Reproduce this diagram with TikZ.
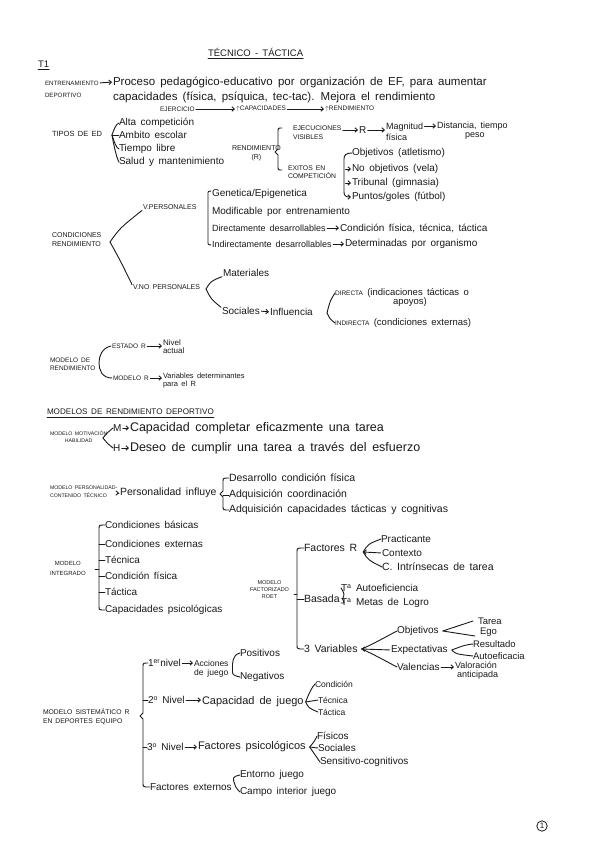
\documentclass[tikz,border=0pt]{standalone}
\usepackage{fontspec}
\setmainfont{Liberation Sans}
\usetikzlibrary{arrows.meta,calc}
\definecolor{ink}{HTML}{1A1A1A}
\newcommand\hwfont[2]{\fontsize{#1}{#2}\selectfont\spaceskip=0.45em plus 0.1em\relax}
\tikzset{
  base/.style={inner sep=0pt, outer sep=0pt, anchor=west, text=ink},
  txt/.style={base, font=\hwfont{10}{12}},
  big/.style={base, font=\hwfont{11.5}{14}},
  capl/.style={base, font=\hwfont{7}{9}, align=left},
  capctr/.style={base, font=\hwfont{7}{8}, align=center},
  ln/.style={draw=ink, line width=0.9pt, line cap=round, line join=round},
  ar/.style={ln, -{Straight Barb[length=2.5pt,width=4.5pt]}, shorten <=1.5pt, shorten >=1pt},
}
\begin{document}
\begin{tikzpicture}[x=1pt,y=-1pt]
\useasboundingbox[fill=white] (0,0) rectangle (599,848);

% title
\node[base, font=\hwfont{9.5}{11}] (title) at (208,52) {TÉCNICO - TÁCTICA};
\draw[ln] ([yshift=-2.5pt]title.south west) -- ([yshift=-2.5pt]title.south east);
\node[base, font=\hwfont{9.5}{11}] (tone) at (38,64) {T1};
\draw[ln] ([yshift=-2pt]tone.south west) -- ([yshift=-2pt]tone.south east);

% entrenamiento
\node[capl, font=\hwfont{6.2}{8}] (ent1) at (45,83) {ENTRENAMIENTO};
\node[capl, font=\hwfont{6.2}{8}] (ent2) at (45,95) {DEPORTIVO};
\node[big] (proc1) at (113,82) {Proceso pedagógico-educativo por organización de EF, para aumentar};
\node[big] (proc2) at (113,97) {capacidades (física, psíquica, tec-tac). Mejora el rendimiento};
\draw[ar] (ent1.east) -- (proc1.west);

\node[capl, font=\hwfont{6.5}{8}] (ejer) at (160,109) {EJERCICIO};
\node[capl, font=\hwfont{6.5}{8}] (capa) at (236,109) {$\uparrow$CAPACIDADES};
\node[capl, font=\hwfont{6.5}{8}] (rend0) at (325,109) {$\uparrow$RENDIMIENTO};
\draw[ar] (ejer.east) -- (capa.west);
\draw[ar] (capa.east) -- (rend0.west);

% tipos de ED
\node[capl, font=\hwfont{7.5}{9}] (tipos) at (52,134) {TIPOS DE ED};
\coordinate (vt) at (112,135);
\node[txt] (tp1) at (119,123) {Alta competición};
\node[txt] (tp2) at (119,135) {Ambito escolar};
\node[txt] (tp3) at (119,149) {Tiempo libre};
\node[txt] (tp4) at (119,162) {Salud y mantenimiento};
\draw[ln] (vt) .. controls +(2,-6) and +(-3,1) .. (tp1.west);
\draw[ln] (vt) -- (tp2.west);
\draw[ln] (vt) .. controls +(2,6) and +(-3,-1) .. (tp3.west);
\draw[ln] (vt) .. controls +(2,12) and +(-2,-3) .. (tp4.west);

% rendimiento
\node[capctr, font=\hwfont{7}{9}] (rendR) at (232,153) {RENDIMIENTO\\(R)};
\draw[ln] (282,128) .. controls (278,128) .. (278,132) -- (278,149) -- (275,152) -- (278,155) -- (278,166) .. controls (278,170) .. (282,170);
\node[capl, font=\hwfont{6.8}{9}] (ejec) at (293,133) {EJECUCIONES\\VISIBLES};
\node[txt] (Rm) at (359,130) {R};
\node[base, font=\hwfont{9}{11}, align=left] (magn) at (386,132) {Magnitud\\física};
\node[base, font=\hwfont{9}{11}] (dist) at (437,126) {Distancia, tiempo};
\node[base, font=\hwfont{9}{11}] (peso) at (465,136) {peso};
\draw[ar] (ejec.east |- Rm.west) -- (Rm.west);
\draw[ar] (Rm.east) -- (Rm.east -| magn.west);
\draw[ar] (magn.east |- dist.west) -- (dist.west);

\node[capl, font=\hwfont{6.8}{8.5}] (exit) at (288,172) {EXITOS EN\\COMPETICIÓN};
\node[txt] (ob1) at (352,153) {Objetivos (atletismo)};
\node[txt] (ob2) at (352,169) {No objetivos (vela)};
\node[txt] (ob3) at (352,183) {Tribunal (gimnasia)};
\node[txt] (ob4) at (352,197) {Puntos/goles (fútbol)};
\coordinate (bx) at (344,0);
\draw[ln] (ob1.west) .. controls (346,153) and (344,155) .. (344,159) -- (344,192);
\draw[ar, shorten <=0pt] (344,192) .. controls (344,196) and (346,197) .. (ob4.west);
\draw[ar] (bx |- ob2.west) -- (ob2.west);
\draw[ar] (bx |- ob3.west) -- (ob3.west);

% condiciones rendimiento
\node[capl, font=\hwfont{7}{9}] (cond) at (52,240) {CONDICIONES\\RENDIMIENTO};
\coordinate (vc) at (110,242);
\node[capl, font=\hwfont{7}{8}] (vpers) at (143,207) {V.PERSONALES};
\node[capl, font=\hwfont{7}{8}] (vnop) at (133,287) {V.NO PERSONALES};
\draw[ln] (vc) .. controls +(10,-14) .. ([xshift=-1pt,yshift=-1pt]vpers.south west);
\draw[ln] (vc) .. controls +(10,18) .. ([xshift=-1pt]vnop.north west);

\node[txt] (g1) at (212,194) {Genetica/Epigenetica};
\node[txt] (g2) at (212,212) {Modificable por entrenamiento};
\node[base, font=\hwfont{9}{11}] (g3) at (212,228) {Directamente desarrollables};
\node[base, font=\hwfont{10}{11}] (g3b) at (340,228) {Condición física, técnica, táctica};
\node[base, font=\hwfont{9}{11}] (g4) at (212,244) {Indirectamente desarrollables};
\node[base, font=\hwfont{10}{11}] (g4b) at (345,244) {Determinadas por organismo};
\draw[ln] (211,191) .. controls (208,191) .. (208,195) -- (208,241) .. controls (208,245) .. (211,245);
\draw[ar] (g3.east) -- (g3b.west);
\draw[ar] (g4.east) -- (g4b.west);

\coordinate (vn) at (206,289);
\node[txt] (mat) at (223,273) {Materiales};
\node[txt] (soc) at (222,311) {Sociales};
\node[txt] (infl) at (270,312) {Influencia};
\draw[ln] (vn) .. controls +(5,-8) .. ([xshift=-1pt]mat.south west);
\draw[ln] (vn) .. controls +(5,10) .. ([xshift=-1pt]soc.north west);
\draw[ar] (soc.east) -- (infl.west);
\coordinate (vi) at (327,313);
\node[base, font=\hwfont{9.5}{10}] (dir) at (335,293) {{\fontsize{6.5}{8}\selectfont DIRECTA} (indicaciones tácticas o};
\node[base, font=\hwfont{9.5}{10}] (apo) at (393,302) {apoyos)};
\node[base, font=\hwfont{9.5}{10}] (ind) at (335,323) {{\fontsize{6.5}{8}\selectfont INDIRECTA} (condiciones externas)};
\draw[ln] (vi) .. controls +(3,-12) .. (dir.west);
\draw[ln] (vi) .. controls +(3,6) .. (ind.west);

% modelo de rendimiento
\node[capl, font=\hwfont{6.5}{8}] (mdr) at (50,364) {MODELO DE\\RENDIMIENTO};
\node[capl, font=\hwfont{6.5}{8}] (est) at (112,346) {ESTADO R};
\node[base, font=\hwfont{8}{8}, align=left] (niv) at (163,347) {Nivel\\actual};
\node[capl, font=\hwfont{6.5}{8}] (modr) at (113,378) {MODELO R};
\node[base, font=\hwfont{7.5}{8}, align=left] (var) at (163,381) {Variables determinantes\\para el R};
\draw[ln] ([xshift=-1pt]est.west) .. controls (102,348) and (99,356) .. (99,363) .. controls (99,370) and (102,378) .. ([xshift=-1pt]modr.west);
\draw[ar] (est.east) -- (est.east -| niv.west);
\draw[ar] (modr.east) -- (modr.east -| var.west);

% modelos de rendimiento deportivo
\node[capl, font=\hwfont{8.1}{10}] (mrd) at (47,412) {MODELOS DE RENDIMIENTO DEPORTIVO};
\draw[ln] ([yshift=-2.5pt]mrd.south west) -- ([yshift=-2.5pt]mrd.south east);

\node[capctr, font=\hwfont{5.2}{7}] (mmh) at (50,437) {MODELO MOTIVACIÓN\\HABILIDAD};
\coordinate (vm) at (103,438);
\node[txt] (mM) at (113,428) {M};
\node[big, font=\hwfont{12.5}{14}] (mcap) at (130,428) {Capacidad completar eficazmente una tarea};
\node[txt] (hH) at (113,448) {H};
\node[big, font=\hwfont{12.5}{14}] (hdes) at (130,448) {Deseo de cumplir una tarea a través del esfuerzo};
\draw[ar] (mM.east) -- (mcap.west);
\draw[ar] (hH.east) -- (hdes.west);
\draw[ln] (vm) .. controls +(4,-5) .. (mM.west);
\draw[ln] (vm) .. controls +(4,5) .. (hH.west);

\node[capl, font=\hwfont{5.2}{8}] (mpc) at (50,492) {MODELO PERSONALIDAD-\\CONTENIDO TÉCNICO};
\node[base, font=\hwfont{10.5}{12}] (pinf) at (120,493) {Personalidad influye};
\draw[ar] (mpc.east |- pinf.west) -- (pinf.west);
\node[base, font=\hwfont{10.5}{12}] (p1) at (229,478) {Desarrollo condición física};
\node[base, font=\hwfont{10.5}{12}] (p2) at (229,495) {Adquisición coordinación};
\node[base, font=\hwfont{10.5}{12}] (p3) at (229,510) {Adquisición capacidades tácticas y cognitivas};
\draw[ln] (p1.west) .. controls (223,478) .. (223,482) -- (223,491) -- (220,494) -- (223,497) -- (223,506) .. controls (223,510) .. (p3.west);
\draw[ln] (223,495) -- (p2.west);

% modelo integrado
\node[capctr, font=\hwfont{6}{10}] (mi) at (50,568) {MODELO\\INTEGRADO};
\node[txt] (i1) at (105,525) {Condiciones básicas};
\node[txt] (i2) at (105,544) {Condiciones externas};
\node[txt] (i3) at (105,560) {Técnica};
\node[txt] (i4) at (105,576) {Condición física};
\node[txt] (i5) at (105,592) {Táctica};
\node[txt] (i6) at (105,610) {Capacidades psicológicas};
\coordinate (ix) at (99,0);
\draw[ln] (i1.west) .. controls (99,525) .. (99,529) -- (99,606) .. controls (99,610) .. (i6.west);
\foreach \n in {i2,i3,i4,i5} {\draw[ln] (ix |- \n.west) -- (\n.west);}
\draw[ln] (99,569) -- (95,569);

% modelo factorizado
\node[capctr, font=\hwfont{5.5}{7}] (mf) at (250,590) {MODELO\\FACTORIZADO\\ROET};
\node[base, font=\hwfont{10.5}{12}] (fr) at (304,548) {Factores R};
\node[base, font=\hwfont{10.5}{12}] (bas) at (304,599) {Basada};
\node[base, font=\hwfont{10.5}{12}] (v3n) at (304,649) {3 Variables};
\draw[ln] (fr.west) .. controls (297,548) .. (297,552) -- (297,645) .. controls (297,649) .. (v3n.west);
\draw[ln] (297,599) -- (bas.west);
\draw[ln] (297,594) -- (294,594);

\coordinate (vf) at ([xshift=6pt]fr.east);
\node[txt] (pr) at (381,539) {Practicante};
\node[txt] (ct) at (382,553) {Contexto};
\node[base, font=\hwfont{10.5}{12}] (ci) at (382,567) {C. Intrínsecas de tarea};
\draw[ln] ([yshift=-4pt]vf) .. controls +(5,-8) .. (pr.west);
\draw[ar, shorten >=0pt] (ct.west) -- ([yshift=-4pt]vf);
\draw[ln] ([yshift=-4pt]vf) .. controls +(5,8) .. (ci.west);

\coordinate (vb) at ([xshift=3pt]bas.east);
\node[txt] (ta1) at (341,588) {T\textsuperscript{a} Autoeficiencia};
\node[txt] (ta2) at (341,603) {T\textsuperscript{a} Metas de Logro};
\draw[ln] (vb) .. controls +(2,-5) .. (ta1.west);
\draw[ln] (vb) .. controls +(2,4) .. (ta2.west);

\coordinate (v3) at ([xshift=4pt]v3n.east);
\node[txt] (objv) at (397,631) {Objetivos};
\node[txt] (expv) at (391,650) {Expectativas};
\node[txt] (valv) at (397,667) {Valencias};
\draw[ln] (v3) .. controls +(10,-4) and +(-6,3) .. (objv.west);
\draw[ar, shorten >=0pt] (expv.west) -- (v3);
\draw[ln] (v3) .. controls +(10,4) and +(-6,-3) .. (valv.west);

\coordinate (vo) at ([xshift=4pt]objv.east);
\node[base, font=\hwfont{9.5}{11}] (tar) at (478,621) {Tarea};
\node[base, font=\hwfont{9.5}{11}] (ego) at (480,632) {Ego};
\draw[ln] ([xshift=-5pt]tar.west) -- (vo) -- ([xshift=-5pt,yshift=-4pt]ego.west);

\coordinate (ve) at ([xshift=4pt]expv.east);
\node[base, font=\hwfont{9.5}{11}] (res) at (473,644) {Resultado};
\node[base, font=\hwfont{9.5}{11}] (aut) at (473,656) {Autoeficacia};
\draw[ln] (res.west) .. controls +(-8,1) .. (ve) .. controls +(4,4) .. (aut.west);

\node[base, font=\hwfont{9}{9}, align=left] (valo) at (455,671) {Valoración\\\hspace{2pt}anticipada};
\draw[ar] (valv.east) -- (valv.east -| valo.west);

% modelo sistematico
\node[capl, font=\hwfont{6.8}{9}] (ms) at (43,717) {MODELO SISTEMÁTICO R\\EN DEPORTES EQUIPO};
\node[txt] (n1) at (148,663) {1\textsuperscript{er}nivel};
\node[txt] (n2) at (148,700) {2\textsuperscript{o} Nivel};
\node[txt] (n3) at (147,747) {3\textsuperscript{o} Nivel};
\node[txt] (fe) at (150,787) {Factores externos};
\coordinate (sx) at (143,0);
\draw[ln] (n1.west) .. controls (143,663) .. (143,667) -- (143,713) -- (140,716) -- (143,719) -- (143,783) .. controls (143,787) .. (fe.west);
\draw[ln] (sx |- n2.west) -- (n2.west);
\draw[ln] (sx |- n3.west) -- (n3.west);

\node[base, font=\hwfont{8.5}{9}, align=center] (acc) at (194,669) {Acciones\\de juego};
\draw[ar] (n1.east) -- (n1.east -| acc.west);
\coordinate (va) at ([xshift=4pt]acc.east);
\node[txt] (pos) at (240,653) {Positivos};
\node[txt] (neg) at (240,677) {Negativos};
\draw[ln] (pos.west) .. controls +(-8,2) and +(0,-6) .. (va) .. controls +(0,6) and +(-8,-2) .. (neg.west);

\node[base, font=\hwfont{11}{13}] (capj) at (202,702) {Capacidad de juego};
\draw[ar] (n2.east) -- (n2.east -| capj.west);
\coordinate (vcj) at ([xshift=2pt]capj.east);
\node[base, font=\hwfont{8.5}{9}] (cnd) at (315,684) {Condición};
\node[base, font=\hwfont{8.5}{9}] (tec) at (318,700) {Técnica};
\node[base, font=\hwfont{8.5}{9}] (tac) at (318,712) {Táctica};
\draw[ln] (vcj) .. controls +(3,-8) and +(-3,3) .. (cnd.west);
\draw[ln] (vcj) -- (tec.west);
\draw[ln] (vcj) .. controls +(3,6) .. (tac.west);

\node[base, font=\hwfont{11}{13}] (fps) at (198,747) {Factores psicológicos};
\draw[ar] (n3.east) -- (n3.east -| fps.west);
\coordinate (vfp) at ([xshift=4pt]fps.east);
\node[txt] (fis) at (317,736) {Físicos};
\node[txt] (socl) at (318,748) {Sociales};
\node[txt] (sens) at (320,762) {Sensitivo-cognitivos};
\draw[ln] (vfp) .. controls +(5,-6) .. (fis.west);
\draw[ln] (vfp) -- (socl.west);
\draw[ln] (vfp) .. controls +(5,8) .. (sens.west);

\coordinate (vfe) at ([xshift=4pt]fe.east);
\node[txt] (ent) at (240,775) {Entorno juego};
\node[txt] (cam) at (240,792) {Campo interior juego};
\draw[ln] (ent.west) .. controls +(-8,2) .. (vfe) .. controls +(3,4) .. (cam.west);

% page number
\node[draw=ink, circle, line width=0.8pt, inner sep=1.2pt, font=\hwfont{8}{9}, text=ink] (pg) at (542,826) {1};
\end{tikzpicture}
\end{document}
